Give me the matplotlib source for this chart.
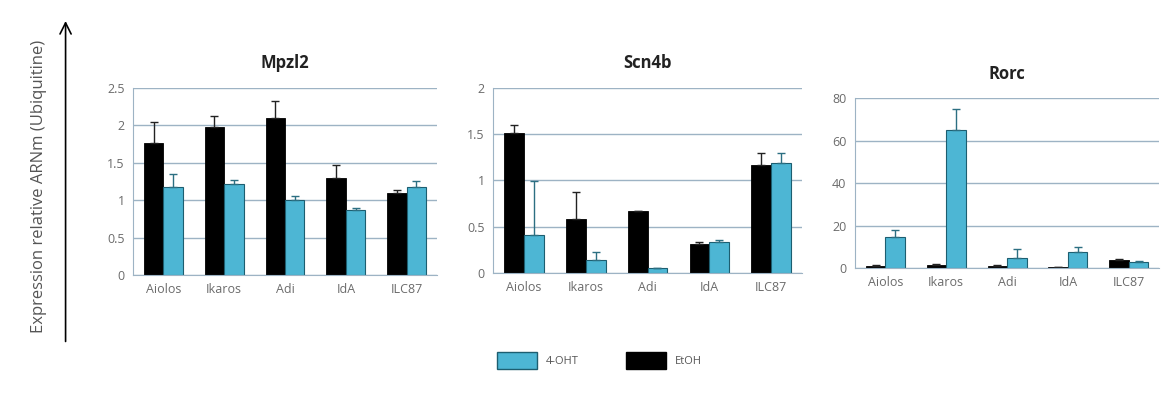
import numpy as np
import matplotlib.pyplot as plt
from matplotlib.patches import FancyArrowPatch, Patch

plt.rcParams['font.family'] = ['Open Sans', 'DejaVu Sans']

genes = ['Aiolos', 'Ikaros', 'Adi', 'Id4', 'ILC87']
xlabels = ['Aiolos', 'Ikaros', 'Adi', 'IdA', 'ILC87']

# EtOH (black) and 4-OHT (cyan), with error bars
mpzl2_etoh = [1.77, 1.98, 2.10, 1.29, 1.10]
mpzl2_etoh_err = [0.28, 0.14, 0.23, 0.18, 0.03]
mpzl2_oht = [1.17, 1.22, 1.00, 0.87, 1.17]
mpzl2_oht_err = [0.18, 0.05, 0.05, 0.02, 0.08]

scn4b_etoh = [1.51, 0.58, 0.67, 0.31, 1.17]
scn4b_etoh_err = [0.09, 0.30, 0.0, 0.02, 0.13]
scn4b_oht = [0.41, 0.14, 0.05, 0.34, 1.19]
scn4b_oht_err = [0.58, 0.09, 0.0, 0.02, 0.11]

rorc_etoh = [1.0, 1.6, 1.0, 0.5, 3.6]
rorc_etoh_err = [0.3, 0.3, 0.3, 0.2, 0.5]
rorc_oht = [14.6, 65.0, 4.7, 7.8, 2.7]
rorc_oht_err = [3.1, 10.0, 4.3, 2.2, 0.5]

cyan = '#4db6d4'
grid_c = '#9db3c4'
tick_c = '#6b6b6b'

fig = plt.figure(figsize=(11.71, 4.05), dpi=100)

panels = [
    ('Mpzl2', [0.1136, 0.321, 0.2596, 0.462], mpzl2_etoh, mpzl2_etoh_err, mpzl2_oht, mpzl2_oht_err,
     np.arange(0, 2.51, 0.5), ['0', '0.5', '1', '1.5', '2', '2.5'], 2.5),
    ('Scn4b', [0.421, 0.326, 0.264, 0.457], scn4b_etoh, scn4b_etoh_err, scn4b_oht, scn4b_oht_err,
     np.arange(0, 2.01, 0.5), ['0', '0.5', '1', '1.5', '2'], 2.0),
    ('Rorc', [0.730, 0.338, 0.260, 0.420], rorc_etoh, rorc_etoh_err, rorc_oht, rorc_oht_err,
     np.arange(0, 81, 20), ['0', '20', '40', '60', '80'], 80),
]

x = np.arange(len(genes))
w = 0.32
for title, pos, et, ete, oh, ohe, yt, ytl, ymax in panels:
    ax = fig.add_axes(pos)
    ax.set_axisbelow(True)
    ax.yaxis.grid(True, color=grid_c, lw=1.0)
    ax.bar(x - w / 2, et, w, color='black', edgecolor='black', linewidth=0.6,
           yerr=[np.zeros(5), ete], error_kw=dict(ecolor='#222222', capsize=3, elinewidth=1))
    ax.bar(x + w / 2, oh, w, color=cyan, edgecolor='#1d5e70', linewidth=0.8,
           yerr=[np.zeros(5), ohe], error_kw=dict(ecolor='#2c6f82', capsize=3, elinewidth=1))
    ax.set_xlim(-0.5, 4.5)
    ax.set_ylim(0, ymax)
    ax.set_yticks(yt)
    ax.set_yticklabels(ytl)
    ax.set_xticks(x)
    ax.set_xticklabels(xlabels)
    ax.tick_params(axis='both', colors=tick_c, labelsize=9, length=0, pad=6)
    for s in ['top', 'right']:
        ax.spines[s].set_visible(False)
    ax.spines['left'].set_color(grid_c)
    ax.spines['bottom'].set_color(grid_c)
    ax.set_title(title, fontsize=12, fontweight='bold', color='#222222', pad=14)

# vertical arrow and y label
arr = FancyArrowPatch((0.056, 0.15), (0.056, 0.955), transform=fig.transFigure,
                      arrowstyle='->', mutation_scale=20, color='black', lw=1.2)
fig.patches.append(arr)
fig.text(0.033, 0.54, 'Expression relative ARNm (Ubiquitine)', rotation=90,
         ha='center', va='center', fontsize=12, color='#555555')

handles = [Patch(facecolor=cyan, edgecolor='#1d5e70', label='4-OHT'),
           Patch(facecolor='black', edgecolor='black', label='EtOH')]
fig.legend(handles=handles, loc='center', bbox_to_anchor=(0.512, 0.11), ncol=2,
           frameon=False, fontsize=8, handlelength=3.6, handleheight=1.9,
           columnspacing=4.2, labelcolor='#555555')

fig.savefig('out.png', dpi=100)
